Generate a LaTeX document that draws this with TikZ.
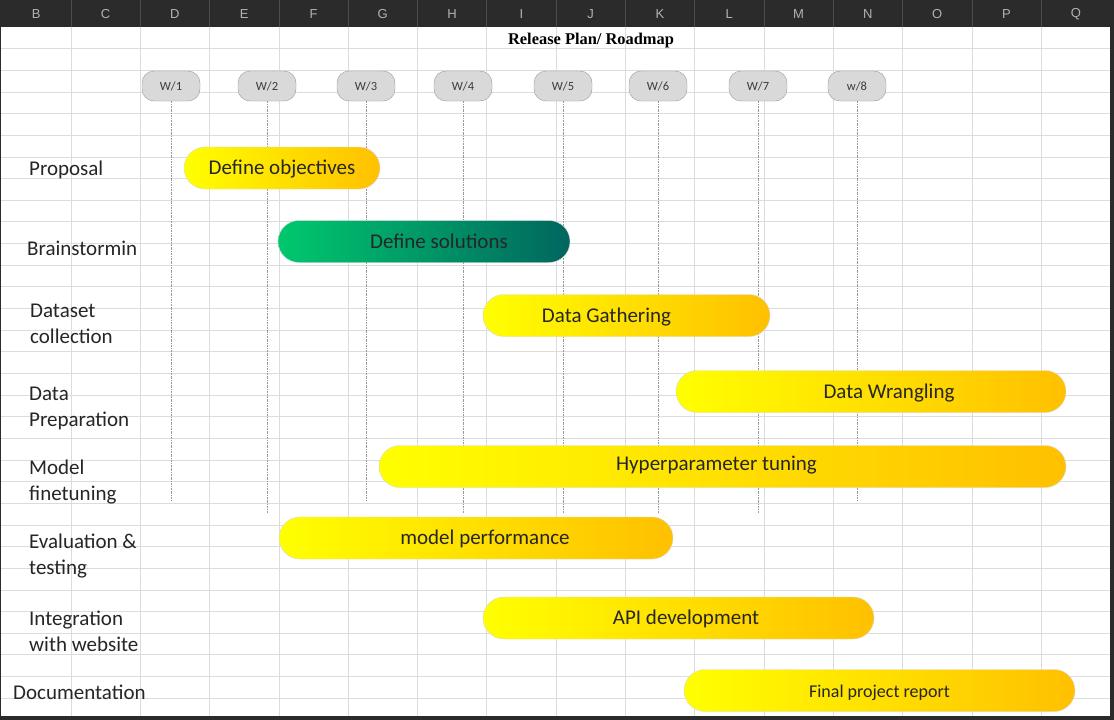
\documentclass[tikz,border=0pt]{standalone}
\usepackage{fontspec}
\setmainfont{Carlito}
\newfontfamily\headfont{Liberation Sans}
\newfontfamily\titlefont{Liberation Serif}
\usepackage{tikz}
\usetikzlibrary{positioning}

\definecolor{sheetdark}{HTML}{2B2B2B}
\definecolor{gridgray}{HTML}{DCDCDC}
\definecolor{pillgray}{HTML}{D9D9D9}
\definecolor{goldbar}{HTML}{FFC000}
\definecolor{greenbar}{HTML}{00C86E}
\definecolor{tealbar}{HTML}{00665F}
\definecolor{inkgray}{HTML}{262626}

\begin{document}
\begin{tikzpicture}[x=1pt,y=-1pt,
  week/.style={draw=gray!80,fill=pillgray,rounded corners=12pt,minimum width=58pt,minimum height=30pt,inner sep=0pt,font=\fontsize{12.5}{14}\selectfont,text=inkgray!90},
  bar/.style={draw=gray!30,rounded corners=21pt,minimum height=42pt,inner sep=0pt,text height=18pt,text depth=4.5pt,left color=yellow,right color=goldbar,font=\fontsize{21}{24}\selectfont,text=inkgray},
  greenbar/.style={bar,left color=greenbar,right color=tealbar},
  task/.style={anchor=west,align=left,inner sep=0pt,font=\fontsize{21}{26}\selectfont,text=inkgray},
  colhead/.style={inner sep=0pt,text=gray!60,font=\headfont\fontsize{13}{15}\selectfont},
  guide/.style={draw=gray!80,line width=0.6pt,dash pattern=on 2pt off 1pt on 0.6pt off 1pt}]

\useasboundingbox (0,0) rectangle (1114,720);
\fill[sheetdark] (0,0) rectangle (1114,720);
\fill[white] (1,27) rectangle (1110,716);
\foreach \c in {0,...,14}
  \draw[gridgray,line width=0.8pt] ({71+69.3*\c},27) -- ({71+69.3*\c},716);
\foreach \r in {1,...,31}
  \draw[gridgray,line width=0.8pt] (1,{27+21.65*\r}) -- (1110,{27+21.65*\r});
\foreach \c in {0,...,14}
  \draw[gray!60!black,line width=0.8pt] ({71+69.3*\c},0) -- ({71+69.3*\c},27);
\foreach [count=\i from 0] \l in {B,...,Q}
  \node[colhead] (H\l) at ({36.3+69.3*\i},14) {\l};

\node[font=\titlefont\bfseries\fontsize{16.4}{19}\selectfont] (title) at (591,41) {Release Plan/ Roadmap};

\node[week] (W1) at (171,86) {W/1};
\node[week] (W2) at (267,86) {W/2};
\node[week] (W3) at (366,86) {W/3};
\node[week] (W4) at (463,86) {W/4};
\node[week] (W5) at (563,86) {W/5};
\node[week] (W6) at (658,86) {W/6};
\node[week] (W7) at (758,86) {W/7};
\node[week] (W8) at (857,86) {w/8};

\coordinate (G1) at (171,500);
\coordinate (G2) at (267,513);
\coordinate (G3) at (366,500);
\coordinate (G4) at (463,513);
\coordinate (G5) at (563,513);
\coordinate (G6) at (658,513);
\coordinate (G7) at (758,513);
\coordinate (G8) at (857,500);

\path (W1) edge[guide] (G1)
      (W2) edge[guide] (G2)
      (W3) edge[guide] (G3)
      (W4) edge[guide] (G4)
      (W5) edge[guide] (G5)
      (W6) edge[guide] (G6)
      (W7) edge[guide] (G7)
      (W8) edge[guide] (G8);

\node[task] (T1) at (29,170) {Proposal};
\node[task] (T2) at (27,248) {Brainstormin};
\node[task] (T3) at (30,324) {Dataset\\collection};
\node[task] (T4) at (29,408) {Data\\Preparation};
\node[task] (T5) at (29,482) {Model\\finetuning};
\node[task] (T6) at (29,556) {Evaluation \&\\testing};
\node[task] (T7) at (29,631) {Integration\\with website};
\node[task] (T8) at (13,692) {Documentation};

\node[bar,minimum width=196pt] (B1) at (282,168) {Define objectives};
\node[greenbar,minimum width=292pt] (B2) at (424,241.5) {\hspace*{30pt}Define solutions};
\node[bar,minimum width=287pt] (B3) at (626.5,315.5) {Data Gathering\hspace*{40pt}};
\node[bar,minimum width=390pt] (B4) at (871,391.5) {\hspace*{36pt}Data Wrangling};
\node[bar,minimum width=687pt] (B5) at (722.5,466.5) {\raisebox{3pt}{Hyperparameter tuning}\hspace*{12pt}};
\node[bar,minimum width=394pt] (B6) at (476,538) {\hspace*{18pt}model performance};
\node[bar,minimum width=391pt] (B7) at (678.5,618) {\hspace*{15pt}API development};
\node[bar,minimum width=391pt,font=\fontsize{18}{20}\selectfont] (B8) at (879.5,690.5) {Final project report};

\end{tikzpicture}
\end{document}
